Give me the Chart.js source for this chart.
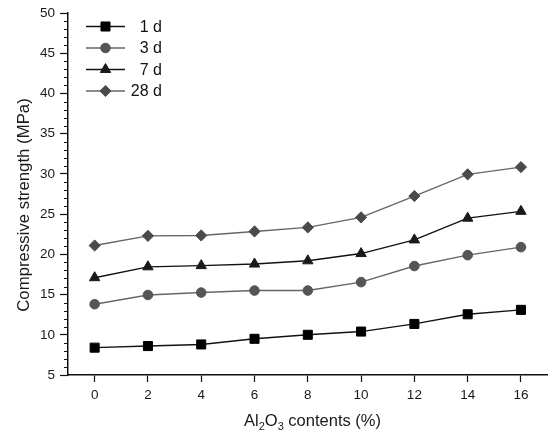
<!DOCTYPE html>
<html>
<head>
<meta charset="utf-8">
<script src="https://cdn.jsdelivr.net/npm/chart.js@4/dist/chart.umd.min.js"></script>
<style>
html,body{margin:0;padding:0;background:#fff;}
#wrap{width:555px;height:434px;position:relative;}
</style>
</head>
<body>
<div id="wrap"><canvas id="c" width="555" height="434"></canvas></div>
<script>
const contents = [0, 2, 4, 6, 8, 10, 12, 14, 16];
const day1  = [8.4, 8.6, 8.8, 9.5, 10.0, 10.4, 11.35, 12.55, 13.1];
const day3  = [13.8, 14.95, 15.25, 15.5, 15.5, 16.55, 18.55, 19.9, 20.9];
const day7  = [17.1, 18.45, 18.6, 18.8, 19.2, 20.1, 21.8, 24.5, 25.35];
const day28 = [21.1, 22.3, 22.35, 22.85, 23.35, 24.6, 27.25, 29.95, 30.85];
const seriesNames = ['1 d', '3 d', '7 d', '28 d'];
const xTicks = [0, 2, 4, 6, 8, 10, 12, 14, 16];
const yTicks = [5, 10, 15, 20, 25, 30, 35, 40, 45, 50];
const yMinorTicks = [];
for (let v = 5; v <= 50; v += 1) if (v % 5 !== 0) yMinorTicks.push(v);

const FONT = "'Liberation Sans', Arial, sans-serif";

function pts(arr){ return contents.map((x,i)=>({x:x, y:arr[i]})); }

const styles = [
  {line:'#111', fill:'#000', style:'rect', r:6.4},
  {line:'#666', fill:'#555', style:'circle', r:4.8},
  {line:'#111', fill:'#1a1a1a', style:'triangle', r:6.0},
  {line:'#666', fill:'#4a4a4a', style:'rectRot', r:5.6}
];
const allData = [day1, day3, day7, day28];

const datasets = allData.map((d,i)=>({
  label: seriesNames[i],
  data: pts(d),
  borderColor: styles[i].line,
  borderWidth: 1.4,
  pointStyle: styles[i].style,
  pointRadius: styles[i].r,
  pointHoverRadius: styles[i].r,
  pointBackgroundColor: styles[i].fill,
  pointBorderColor: styles[i].fill,
  pointBorderWidth: 1,
  tension: 0,
  fill: false
}));

const decor = {
  id: 'decor',
  afterDraw(chart){
    const ctx = chart.ctx;
    const ys = chart.scales.y;
    const left = ys.right;
    ctx.save();
    ctx.strokeStyle = '#111';
    ctx.lineWidth = 1;
    yMinorTicks.forEach(v=>{
      const py = Math.round(ys.getPixelForValue(v)) + 0.5;
      ctx.beginPath();
      ctx.moveTo(left - 4, py);
      ctx.lineTo(left, py);
      ctx.stroke();
    });
    ctx.fillStyle = '#1a1a1a';
    ctx.font = '16.8px ' + FONT;
    ctx.textAlign = 'center';
    ctx.textBaseline = 'middle';
    ctx.translate(24, 205);
    ctx.rotate(-Math.PI/2);
    ctx.fillText('Compressive strength (MPa)', 0, 0);
    ctx.restore();

    ctx.save();
    ctx.fillStyle = '#1a1a1a';
    ctx.textBaseline = 'alphabetic';
    ctx.textAlign = 'left';
    const big = '16.5px ' + FONT, small = '11px ' + FONT;
    const parts = [['Al',big,0],['2',small,4],['O',big,0],['3',small,4],[' contents (%)',big,0]];
    let total = 0;
    parts.forEach(p=>{ctx.font=p[1]; total += ctx.measureText(p[0]).width;});
    let x = 312.5 - total/2;
    const base = 426;
    parts.forEach(p=>{ctx.font=p[1]; ctx.fillText(p[0], x, base + p[2]); x += ctx.measureText(p[0]).width;});
    ctx.restore();

    ctx.save();
    chart.data.datasets.forEach((ds,i)=>{
      const cy = 26.5 + i*21.5;
      ctx.strokeStyle = ds.borderColor;
      ctx.lineWidth = 1.4;
      ctx.beginPath();
      ctx.moveTo(86, cy);
      ctx.lineTo(125, cy);
      ctx.stroke();
      ctx.fillStyle = ds.pointBackgroundColor;
      ctx.strokeStyle = ds.pointBorderColor;
      ctx.lineWidth = 1;
      Chart.helpers.drawPoint(ctx, {pointStyle: ds.pointStyle, radius: ds.pointRadius, borderWidth: 1, rotation: 0}, 105.5, cy);
      ctx.fillStyle = '#111';
      ctx.font = '16px ' + FONT;
      ctx.textAlign = 'right';
      ctx.textBaseline = 'middle';
      ctx.fillText(ds.label, 162, cy + 1);
    });
    ctx.restore();
  }
};

new Chart(document.getElementById('c'), {
  type: 'line',
  data: { datasets },
  plugins: [decor],
  options: {
    responsive: false,
    animation: false,
    devicePixelRatio: 1,
    layout: { padding: { top: 13, right: 0, left: 0, bottom: 0 } },
    plugins: { legend: { display: false }, tooltip: { enabled: false } },
    scales: {
      x: {
        type: 'linear',
        min: -1, max: 17,
        afterBuildTicks: s => { s.ticks = xTicks.map(v=>({value:v})); },
        afterFit: s => { s.height = 59; },
        grid: { drawOnChartArea: false, drawTicks: true, tickLength: 7, tickColor: '#111', tickWidth: 1.2 },
        border: { display: true, color: '#111', width: 1.5 },
        ticks: { color: '#1a1a1a', font: { family: FONT, size: 13.5 }, padding: 5, maxRotation: 0, autoSkip: false,
                 callback: v => String(v) }
      },
      y: {
        type: 'linear',
        min: 5, max: 50,
        afterBuildTicks: s => { s.ticks = yTicks.map(v=>({value:v})); },
        afterFit: s => { s.width = 68; },
        grid: { drawOnChartArea: false, drawTicks: true, tickLength: 8, tickColor: '#111', tickWidth: 1.2 },
        border: { display: true, color: '#111', width: 1.5 },
        ticks: { color: '#1a1a1a', font: { family: FONT, size: 13.5 }, padding: 5, autoSkip: false,
                 callback: v => String(v) }
      }
    }
  }
});
</script>
</body>
</html>
